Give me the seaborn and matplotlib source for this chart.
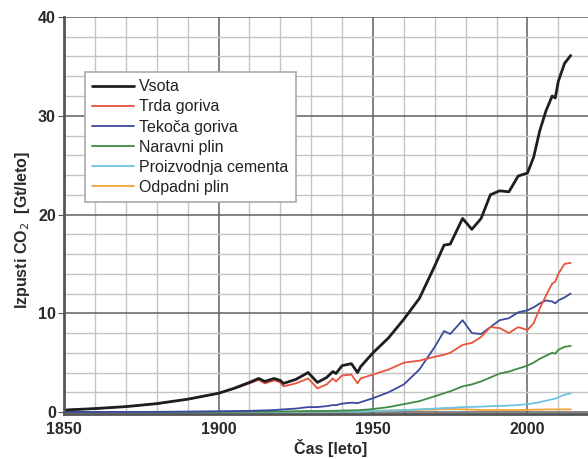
import numpy as np
import pandas as pd
import seaborn as sns
import matplotlib.pyplot as plt
from matplotlib.ticker import MultipleLocator

# --------------------------------------------------
# Data (Gt CO2 per year)
# --------------------------------------------------
years = [1850, 1860, 1870, 1880, 1890, 1900, 1905, 1910, 1913, 1915,
         1918, 1920, 1921, 1925, 1929, 1932, 1935, 1937, 1938, 1940,
         1943, 1945, 1946, 1950, 1955, 1960, 1965, 1970, 1973, 1975,
         1979, 1982, 1985, 1988, 1991, 1994, 1997, 2000, 2002, 2004,
         2006, 2008, 2009, 2010, 2012, 2014]

vsota = [0.2, 0.35, 0.55, 0.85, 1.3, 1.9, 2.4, 3.0, 3.4, 3.1,
         3.4, 3.2, 2.9, 3.3, 4.0, 3.0, 3.5, 4.1, 3.9, 4.7,
         4.9, 4.0, 4.6, 6.0, 7.5, 9.4, 11.5, 14.8, 16.9, 17.0,
         19.6, 18.5, 19.6, 22.0, 22.4, 22.3, 23.9, 24.2, 25.8, 28.5,
         30.5, 32.0, 31.8, 33.5, 35.3, 36.1]

trda = [0.2, 0.35, 0.55, 0.85, 1.3, 1.9, 2.35, 2.9, 3.25, 2.9,
        3.2, 3.0, 2.6, 2.9, 3.4, 2.4, 2.8, 3.4, 3.1, 3.7,
        3.8, 2.9, 3.4, 3.8, 4.3, 5.0, 5.2, 5.6, 5.8, 6.0,
        6.8, 7.0, 7.6, 8.6, 8.5, 8.0, 8.6, 8.3, 9.0, 10.5,
        11.8, 13.0, 13.2, 14.0, 15.0, 15.1]

tekoca = [0, 0, 0.01, 0.02, 0.05, 0.08, 0.1, 0.12, 0.15, 0.17,
          0.2, 0.25, 0.27, 0.35, 0.5, 0.5, 0.6, 0.7, 0.7, 0.85,
          0.95, 0.9, 1.0, 1.4, 2.0, 2.8, 4.3, 6.6, 8.2, 7.9,
          9.3, 8.0, 7.9, 8.6, 9.3, 9.5, 10.1, 10.3, 10.6, 11.0,
          11.3, 11.2, 11.0, 11.3, 11.6, 12.0]

plin = [0, 0, 0, 0, 0.01, 0.02, 0.03, 0.04, 0.05, 0.05,
        0.06, 0.06, 0.06, 0.08, 0.1, 0.1, 0.11, 0.13, 0.13, 0.15,
        0.17, 0.18, 0.2, 0.3, 0.5, 0.8, 1.1, 1.6, 1.9, 2.1,
        2.6, 2.8, 3.1, 3.5, 3.9, 4.1, 4.4, 4.7, 5.0, 5.4,
        5.7, 6.0, 5.9, 6.3, 6.6, 6.7]

cement = [0, 0, 0, 0, 0, 0, 0.01, 0.01, 0.01, 0.01,
          0.01, 0.01, 0.01, 0.02, 0.03, 0.03, 0.03, 0.04, 0.04, 0.05,
          0.05, 0.05, 0.06, 0.1, 0.15, 0.2, 0.28, 0.35, 0.4, 0.42,
          0.5, 0.52, 0.55, 0.6, 0.62, 0.65, 0.72, 0.8, 0.88, 1.0,
          1.15, 1.3, 1.35, 1.5, 1.75, 1.9]

odpadni = [0, 0, 0, 0, 0, 0, 0, 0, 0, 0,
           0.01, 0.02, 0.02, 0.03, 0.04, 0.04, 0.05, 0.06, 0.06, 0.07,
           0.07, 0.07, 0.08, 0.1, 0.15, 0.2, 0.22, 0.25, 0.3, 0.3,
           0.28, 0.25, 0.2, 0.2, 0.2, 0.2, 0.2, 0.22, 0.24, 0.25,
           0.26, 0.27, 0.26, 0.27, 0.27, 0.27]

labels = ["Vsota", "Trda goriva", "Tekoča goriva", "Naravni plin",
          "Proizvodnja cementa", "Odpadni plin"]
series = [vsota, trda, tekoca, plin, cement, odpadni]
colors = ["#1e1e1e", "#e8533c", "#3c4a9e", "#3f8a45", "#6cc3e3", "#f2a23a"]
widths = [2.0, 1.3, 1.3, 1.3, 1.3, 1.3]

df = pd.DataFrame({"leto": years})
for lab, vals in zip(labels, series):
    df[lab] = vals

# --------------------------------------------------
# Plot
# --------------------------------------------------
sns.set_style("white")
plt.rcParams["font.family"] = ["Liberation Sans", "DejaVu Sans"]

fig = plt.figure(figsize=(5.88, 4.59), dpi=100)
ax = fig.add_axes([0.109, 0.098, 0.891, 0.865])

# draw smaller ones first so total is on top
for lab, col, lw in reversed(list(zip(labels, colors, widths))):
    sns.lineplot(data=df, x="leto", y=lab, color=col, linewidth=lw,
                 label=lab, ax=ax)

ax.set_xlim(1850, 2019.6)
ax.set_ylim(-0.2, 40)
ax.xaxis.set_major_locator(MultipleLocator(50))
ax.xaxis.set_minor_locator(MultipleLocator(10))
ax.yaxis.set_major_locator(MultipleLocator(10))
ax.yaxis.set_minor_locator(MultipleLocator(2))

ax.grid(which="minor", color="#c4c4c4", linewidth=1.0)
ax.grid(which="major", color="#606060", linewidth=1.1)
ax.set_axisbelow(True)

for side in ["top", "right"]:
    ax.spines[side].set_visible(False)
for side in ["left", "bottom"]:
    ax.spines[side].set_color("#555555")
    ax.spines[side].set_linewidth(2.0)

ax.tick_params(axis="both", which="major", labelsize=11.5, length=4,
               color="#555555", left=True, bottom=False, pad=2)
for t in ax.get_xticklabels() + ax.get_yticklabels():
    t.set_fontweight("bold")
    t.set_color("#2a2a2a")

ax.set_xlabel("Čas [leto]", fontsize=11.5, fontweight="bold",
              color="#2a2a2a", labelpad=1)
ax.set_ylabel("Izpusti CO$_2$  [Gt/leto]", fontsize=11.5, fontweight="bold",
              color="#2a2a2a")
ax.xaxis.set_label_coords(0.508, -0.062)
ax.yaxis.set_label_coords(-0.062, 0.463)

handles, labs = ax.get_legend_handles_labels()
order = [labs.index(l) for l in labels]
leg = ax.legend([handles[i] for i in order], [labs[i] for i in order],
                loc="upper left", bbox_to_anchor=(0.04, 0.861),
                borderaxespad=0, fontsize=11.5, handlelength=2.6,
                handletextpad=0.35, labelspacing=0.32, fancybox=False,
                framealpha=1, edgecolor="#aaaaaa", borderpad=0.45)
leg.get_frame().set_linewidth(1.2)
for t in leg.get_texts():
    t.set_color("#222222")

plt.savefig("out.png", dpi=100)
plt.close()
